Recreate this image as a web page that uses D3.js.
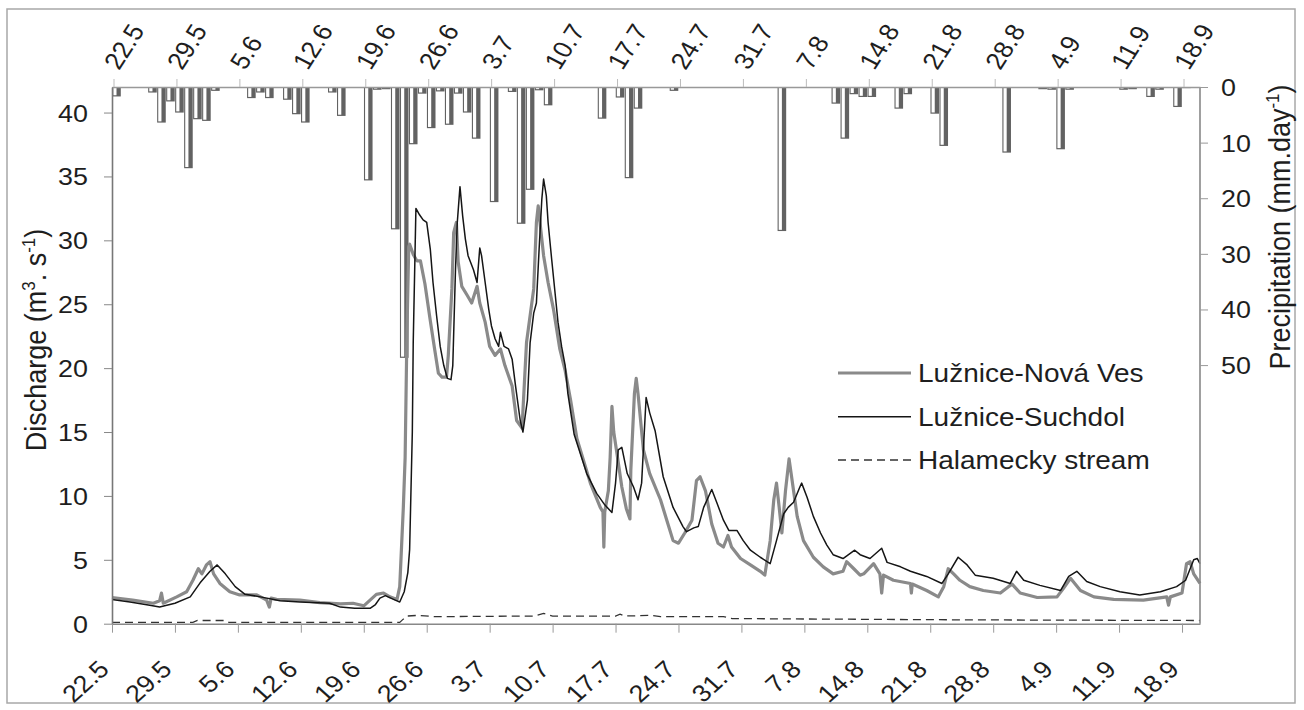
<!DOCTYPE html>
<html><head><meta charset="utf-8">
<script src="https://cdn.jsdelivr.net/npm/d3@7"></script>
<style>
body{margin:0;background:#fff}
svg{display:block}
text{font-family:"Liberation Sans",Arial,Helvetica,sans-serif;fill:#1e1e1e}
</style>
</head><body>
<svg id="chart" width="1304" height="710"></svg>
<script>
// ---- data ----
const tickDays = [0,7,14,21,28,35,42,49,56,63,70,77,84,91,98,105,112,119];
const tickLabels = ["22.5","29.5","5.6","12.6","19.6","26.6","3.7","10.7","17.7","24.7","31.7","7.8","14.8","21.8","28.8","4.9","11.9","18.9"];
const dischargeTicks = [0,5,10,15,20,25,30,35,40];
const precipTicks = [0,10,20,30,40,50];

// daily precipitation (mm/day), day 0 = 22.5
const precip = [
 1.7,0,0,0,1.0,6.4,2.6,4.6,14.6,5.8, 6.1,0.7,0,0,0,2.0,1.0,2.0,0,2.3,
 4.9,6.4,0,0,1.0,5.2,0,0,16.8,0.5, 0.4,25.6,48.7,10.3,1.2,7.4,0.8,6.8,1.2,4.6,
 9.3,0,20.7,0,0.9,24.6,18.5,0.6,3.3,0, 0,0,0,0,5.7,0,1.9,16.4,3.9,0,
 0,0,0.7,0,0,0,0,0,0,0, 0,0,0,0,25.9,0,0,0,0,0,
 3.0,9.3,1.3,1.8,1.8,0,0,3.9,1.3,0, 0,4.8,10.6,0,0,0,0,0,0,11.8,
 0,0,0,0.4,0.5,11.2,0.5,0,0,0, 0,0,0.5,0.4,0,1.8,0.5,0,3.6,0.2,
 0
];

const novaVesDay = [0,2.3,4.6,5.3,5.5,5.7,7.2,8.3,9.0,9.6,10.0,10.5,10.9,11.3,12.0,13.1,14.2,16.1,17.2,17.5,17.7,18.3,20.9,23.1,25.4,26.8,28.0,28.7,29.4,30.2,30.9,31.7,32.0,32.4,32.6,32.8,33.0,33.1,33.5,33.9,34.3,34.8,35.4,35.9,36.3,36.7,37.2,37.4,37.8,38.0,38.3,38.5,38.9,39.5,40.0,40.6,40.9,41.5,42.0,42.6,43.2,43.7,44.5,45.0,45.6,46.1,46.9,47.2,47.4,48.0,48.5,49.1,49.8,50.4,51.0,51.7,53.2,54.3,54.6,54.7,54.8,55.2,55.4,55.6,55.8,56.1,56.7,57.2,57.6,57.7,58.1,58.3,58.5,59.1,59.8,61.0,61.7,62.4,63.0,63.7,64.5,65.0,65.4,66.0,66.7,67.4,68.0,68.5,68.9,69.9,71.0,72.1,72.6,73.2,73.6,73.9,74.2,74.5,74.9,75.3,75.8,76.2,76.9,78.0,79.1,80.2,81.3,81.7,82.5,83.2,83.6,84.7,85.4,85.6,85.8,86.9,88.8,88.9,89.0,90.6,91.9,92.5,93.0,93.6,94.3,95.4,96.9,98.8,99.7,100.1,101.0,102.9,105.1,105.8,106.6,107.7,109.2,111.4,114.7,117.3,117.5,117.7,119.0,119.5,119.9,120.3,121.0];
const novaVesQ = [2.05,1.85,1.6,1.8,2.4,1.6,2.1,2.5,3.4,4.3,3.9,4.6,4.85,3.9,3.15,2.5,2.25,2.25,1.85,1.3,2.0,1.9,1.85,1.65,1.55,1.6,1.4,1.85,2.3,2.4,2.1,1.9,2.9,9.1,13.0,22.7,29.5,29.7,28.9,28.4,28.4,26.6,23.7,21.4,19.6,19.3,19.3,21.0,26.2,30.6,31.4,28.3,26.4,25.7,25.1,26.4,25.1,23.6,21.7,21.0,21.5,20.2,18.6,15.9,15.3,22.0,26.2,31.4,32.7,28.8,26.7,24.6,21.5,19.8,17.5,14.5,11.0,9.1,8.75,6.0,8.75,10.4,13.0,17.0,15.0,13.6,10.7,9.0,8.2,12.0,18.0,19.2,18.0,13.6,11.75,9.7,8.1,6.5,6.3,7.1,8.1,11.2,11.5,10.4,7.8,6.3,6.0,6.9,6.0,5.1,4.6,4.1,3.8,6.5,9.7,11.0,9.1,7.1,10.4,12.9,10.4,8.4,6.5,5.2,4.45,3.9,4.1,4.85,4.3,3.8,3.9,4.7,3.9,2.4,3.8,3.4,3.15,2.4,3.1,2.6,2.1,2.9,4.3,3.9,3.4,2.9,2.6,2.4,2.9,3.1,2.4,2.05,2.1,2.75,3.55,2.6,2.1,1.9,1.85,2.1,1.45,2.1,2.4,4.7,4.85,3.9,3.15];

const suchdolDay = [0,2.0,4.2,5.3,7.0,8.7,9.8,10.9,11.7,12.6,13.7,14.8,16.5,18.7,20.9,24.2,25.4,27.0,28.7,29.3,29.8,30.4,31.5,32.0,32.5,32.9,33.1,33.4,33.5,33.8,34.2,34.6,35.0,35.4,35.7,36.1,36.5,36.9,37.3,37.7,37.9,38.2,38.4,38.7,39.0,39.3,39.6,40.2,40.6,40.9,41.1,41.5,41.9,42.2,42.6,43.0,43.2,43.6,44.1,44.5,44.9,45.4,45.7,46.2,46.5,46.9,47.2,47.5,47.8,48.0,48.3,48.5,48.9,49.3,49.6,50.0,50.4,50.7,51.4,52.8,53.9,54.8,55.6,56.0,56.3,56.7,57.3,58.0,58.5,58.9,59.2,59.4,59.8,60.4,61.3,62.4,63.5,63.9,64.7,65.2,65.8,66.7,67.3,68.0,68.6,69.5,70.2,71.0,72.1,73.2,73.9,74.7,75.2,75.8,76.5,76.7,77.3,78.0,78.8,79.5,80.2,81.3,82.6,83.2,84.3,85.6,86.2,87.7,88.8,90.6,92.3,93.0,94.1,95.1,96.0,98.0,99.9,100.6,101.4,103.2,105.5,106.4,107.3,108.4,109.9,112.1,114.3,116.6,118.4,119.4,120.3,120.7,121.0];
const suchdolQ = [1.9,1.7,1.45,1.3,1.6,2.1,3.2,4.1,4.6,3.9,2.9,2.3,2.1,1.8,1.7,1.6,1.3,1.2,1.2,1.5,2.0,2.2,1.85,1.7,2.5,4.0,5.8,15.0,22.0,32.5,32.0,31.6,31.4,29.3,26.7,24.1,21.7,20.2,19.2,19.1,20.2,27.7,31.4,34.2,31.9,30.1,28.8,27.7,26.7,29.4,28.8,26.7,24.6,23.3,22.3,21.7,22.8,21.7,21.5,20.7,18.5,15.9,15.0,17.5,22.0,24.3,25.1,29.3,33.2,34.8,33.5,31.4,28.5,25.7,23.6,21.7,20.2,18.0,14.8,11.75,10.2,9.3,8.7,11.0,13.6,13.8,11.75,10.7,9.7,11.0,15.0,17.7,16.5,15.1,11.5,9.1,7.6,7.2,7.5,7.6,9.1,10.5,9.4,8.1,7.3,7.3,6.5,5.75,5.2,4.7,6.5,8.6,9.1,9.5,10.7,11.0,9.9,8.4,7.1,6.15,5.4,5.1,5.75,5.4,5.1,5.9,4.8,4.45,4.1,3.7,3.15,3.9,5.2,4.6,3.8,3.55,3.15,4.1,3.4,3.0,2.6,3.7,4.1,3.3,2.9,2.5,2.25,2.5,2.9,3.4,5.0,5.1,4.7];

const halameckyDay = [0,9.0,9.5,12.5,13.0,32.0,32.3,32.8,34.0,36.0,47.0,48.0,49.0,56.0,56.5,57.0,60.0,61.0,68.0,69.0,95.0,121.0];
const halameckyQ   = [0.1,0.1,0.25,0.25,0.1,0.1,0.3,0.6,0.65,0.55,0.6,0.8,0.6,0.6,0.75,0.6,0.65,0.55,0.55,0.4,0.3,0.25];

const seriesNames = ["Lužnice-Nová Ves","Lužnice-Suchdol","Halamecky stream"];

// ---- chart ----
const svg = d3.select("#chart");
const L = 112, R = 1200, T = 87, B = 623.7;
const SX = 1.12; // horizontal glyph stretch of the original figure

const x = d3.scaleLinear().domain([0,121]).range([L,R]);
const yQ = d3.scaleLinear().domain([0,42]).range([B,T]);
const yP = d3.scaleLinear().domain([0,96.5]).range([T,B]);

// outer frame
svg.append("rect").attr("x",7).attr("y",9).attr("width",1288).attr("height",694)
  .attr("fill","none").attr("stroke","#a8a8a8").attr("stroke-width",1.5);

// precipitation bars
const bars = svg.append("g");
precip.forEach((v,i)=>{
  if(v<=0) return;
  const x0 = x(i)+0.2, w = x(i+1)-x(i)-0.4, y0 = yP(0), h = yP(v)-yP(0);
  bars.append("rect").attr("x",x0).attr("y",y0).attr("width",w).attr("height",h).attr("fill","#626262");
  if(h>2) bars.append("rect").attr("x",x0+1.1).attr("y",y0).attr("width",3.2).attr("height",h-1.2).attr("fill","#fff");
});

// lines
const line = (days, vals) => d3.line().x((d,i)=>x(days[i])).y((d,i)=>yQ(vals[i]))(vals);
svg.append("path").attr("d",line(halameckyDay,halameckyQ)).attr("fill","none")
  .attr("stroke","#333").attr("stroke-width",1.3).attr("stroke-dasharray","8,5");
svg.append("path").attr("d",line(novaVesDay,novaVesQ)).attr("fill","none")
  .attr("stroke","#8a8a8a").attr("stroke-width",3.2).attr("stroke-linejoin","round");
svg.append("path").attr("d",line(suchdolDay,suchdolQ)).attr("fill","none")
  .attr("stroke","#151515").attr("stroke-width",1.5).attr("stroke-linejoin","round");

// axes
function styleAxis(g, dom, tick){
  g.select(".domain").attr("stroke",dom).attr("stroke-width",1.6);
  g.selectAll(".tick line").attr("stroke",tick).attr("stroke-width",1);
  g.selectAll("text").attr("x",null).attr("y",null).attr("dy",null).style("font-size","24px");
}
// left
const gl = svg.append("g").attr("transform",`translate(${L},0)`)
  .call(d3.axisLeft(yQ).tickValues(dischargeTicks).tickSize(8).tickSizeOuter(0));
styleAxis(gl,"#777","#888");
gl.selectAll("text").attr("text-anchor","end").attr("transform",`translate(-24,8.5) scale(${SX},1)`);
// right
const gr = svg.append("g").attr("transform",`translate(${R},0)`)
  .call(d3.axisRight(yP).tickValues(precipTicks).tickSize(8).tickSizeOuter(0));
gr.select(".domain").attr("d",`M0,${T}V${B}`);
styleAxis(gr,"#888","#999");
gr.selectAll("text").attr("text-anchor","start").attr("transform",`translate(21,8.5) scale(${SX},1)`);
// bottom
const gb = svg.append("g").attr("transform",`translate(0,${B})`)
  .call(d3.axisBottom(x).tickValues(tickDays).tickFormat((d,i)=>tickLabels[i]).tickSize(9).tickSizeOuter(0));
styleAxis(gb,"#888","#999");
gb.selectAll("text").attr("text-anchor","end").attr("transform",`translate(-2,47) scale(${SX},1) rotate(-45)`);
// top
const gt = svg.append("g").attr("transform",`translate(0,${T})`)
  .call(d3.axisTop(x).tickValues(tickDays).tickFormat((d,i)=>tickLabels[i]).tickSize(8).tickSizeOuter(0));
styleAxis(gt,"#999","#bbb");
gt.selectAll(".tick").attr("transform",d=>`translate(${x(d)+2},0)`);
gt.selectAll("text").attr("text-anchor","start").attr("transform",`translate(5,-16) scale(${SX},1) rotate(-60)`);

// axis titles
const lt = svg.append("text").attr("text-anchor","middle")
  .attr("transform",`translate(46,340) scale(${SX},1) rotate(-90)`).style("font-size","27px");
lt.append("tspan").text("Discharge (m");
lt.append("tspan").attr("dy",-10).style("font-size","17px").text("3");
lt.append("tspan").attr("dy",10).text(". s");
lt.append("tspan").attr("dy",-10).style("font-size","17px").text("-1");
lt.append("tspan").attr("dy",10).text(")");

const rt = svg.append("text").attr("text-anchor","middle")
  .attr("transform",`translate(1290,227) scale(${SX},1) rotate(-90)`).style("font-size","27px");
rt.append("tspan").text("Precipitation (mm.day");
rt.append("tspan").attr("dy",-10).style("font-size","17px").text("-1");
rt.append("tspan").attr("dy",10).text(")");

// legend
const lg = svg.append("g");
const legY = [373, 416.7, 460];
const legStyle = [{c:"#8a8a8a",w:3.2,d:null},{c:"#151515",w:1.5,d:null},{c:"#333",w:1.3,d:"8,5"}];
seriesNames.forEach((n,i)=>{
  lg.append("line").attr("x1",838).attr("x2",911).attr("y1",legY[i]).attr("y2",legY[i])
    .attr("stroke",legStyle[i].c).attr("stroke-width",legStyle[i].w).attr("stroke-dasharray",legStyle[i].d);
  lg.append("text").attr("transform",`translate(918,${legY[i]+9}) scale(${SX},1)`).style("font-size","25px").text(n);
});
</script>
</body></html>
